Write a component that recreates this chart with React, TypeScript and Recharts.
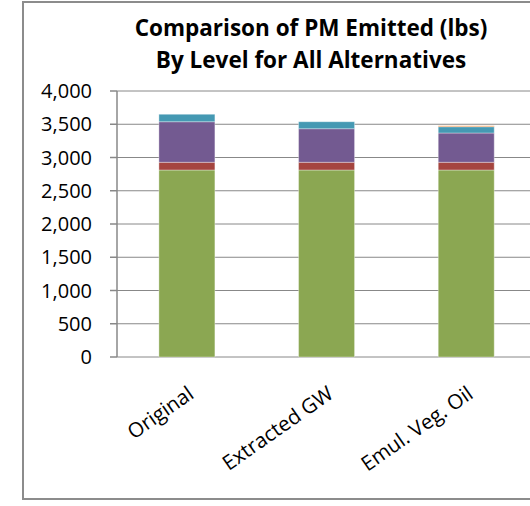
import React from "react";
import {
  BarChart,
  Bar,
  XAxis,
  YAxis,
  CartesianGrid,
} from "recharts";

// alternatives on the x axis
const alternatives = ["Original", "Extracted GW", "Emul. Veg. Oil"];

// PM emitted (lbs) per level, stacked bottom to top
const level1 = [2812, 2812, 2812];
const level2 = [116, 116, 116];
const level3 = [610, 505, 440];
const level4 = [112, 105, 95];
const level5 = [0, 0, 15];

const yTicks = [0, 500, 1000, 1500, 2000, 2500, 3000, 3500, 4000];
const edgeTicks = [0, 1, 2, 3];

const SERIES = [
  { key: "level1", color: "#8BA752" },
  { key: "level2", color: "#A5453F" },
  { key: "level3", color: "#735A91" },
  { key: "level4", color: "#4599B3" },
  { key: "level5", color: "#F79646" },
];

const data = alternatives.map((name, i) => ({
  name,
  pos: i + 0.5,
  level1: level1[i],
  level2: level2[i],
  level3: level3[i],
  level4: level4[i],
  level5: level5[i],
}));

const FONT = "'Open Sans', sans-serif";
const GRID = "#888888";

export default function App() {
  return (
    <div
      style={{
        position: "absolute",
        left: 0,
        top: 0,
        width: 530,
        height: 506,
        overflow: "hidden",
        background: "#fff",
      }}
    >
      {/* chart area border, cut off at top and right like the source */}
      <div
        style={{
          position: "absolute",
          left: 22,
          top: 1,
          width: 600,
          height: 499,
          border: "2px solid #8c8c8c",
          boxSizing: "border-box",
        }}
      />
      <div
        style={{
          position: "absolute",
          left: 100,
          top: 12,
          width: 422,
          textAlign: "center",
          fontFamily: FONT,
          fontWeight: 700,
          fontSize: 22.5,
          lineHeight: "32px",
          color: "#000",
        }}
      >
        Comparison of PM Emitted (lbs)
        <br />
        By Level for All Alternatives
      </div>
      <div style={{ position: "absolute", left: 0, top: 0 }}>
        <BarChart
          width={536}
          height={506}
          data={data}
          margin={{ top: 91, right: 0, left: 0, bottom: 49 }}
          barCategoryGap="30%"
        >
          <CartesianGrid
            xAxisId="cat"
            vertical={false}
            stroke={GRID}
            strokeWidth={1}
          />
          <XAxis
            xAxisId="edge"
            dataKey="pos"
            type="number"
            domain={[0, 3]}
            ticks={edgeTicks}
            allowDataOverflow
            height={0}
            tickSize={7}
            tickFormatter={() => ""}
            axisLine={{ stroke: GRID, strokeWidth: 1.5 }}
            tickLine={{ stroke: GRID, strokeWidth: 1.5 }}
          />
          <XAxis
            xAxisId="cat"
            dataKey="name"
            height={100}
            interval={0}
            axisLine={false}
            tickLine={false}
            tickSize={0}
            tickMargin={28}
            tick={{
              angle: -35,
              textAnchor: "end",
              dx: 0,
              fontSize: 20.5,
              fontFamily: FONT,
              fill: "#000",
            }}
          />
          <YAxis
            width={117}
            domain={[0, 4000]}
            ticks={yTicks}
            interval={0}
            tickSize={7}
            tickMargin={18}
            tickFormatter={(v: number) => v.toLocaleString("en-US")}
            tick={{ fontSize: 20, fontFamily: FONT, fill: "#000" }}
            axisLine={{ stroke: GRID, strokeWidth: 1.5 }}
            tickLine={{ stroke: GRID, strokeWidth: 1.5 }}
          />
          {SERIES.map((s) => (
            <Bar
              key={s.key}
              xAxisId="cat"
              dataKey={s.key}
              stackId="pm"
              fill={s.color}
              stroke="#ffffff"
              strokeOpacity={0.35}
              strokeWidth={1}
              isAnimationActive={false}
            />
          ))}
        </BarChart>
      </div>
    </div>
  );
}
